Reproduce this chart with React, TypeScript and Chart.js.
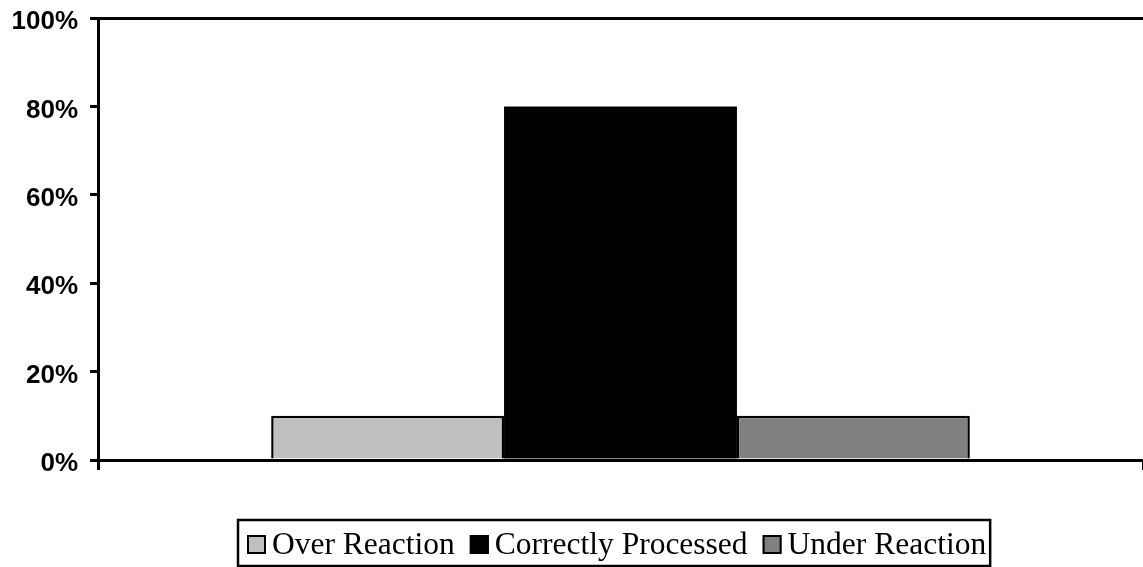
import React, { useEffect, useRef } from "react";
import { Chart, registerables } from "chart.js";

Chart.register(...registerables);

const categories = [""];
const seriesNames = ["Over Reaction", "Correctly Processed", "Under Reaction"];
const overReaction = [10];
const correctlyProcessed = [80];
const underReaction = [10];
const yTicks = [0, 20, 40, 60, 80, 100];
const seriesColors = ["#C0C0C0", "#000000", "#808080"];

const LEGEND_FONT = '31.5px "Liberation Serif"';

const boxedLegend = {
  id: "boxedLegend",
  afterDraw(chart: any) {
    const ctx = chart.ctx;
    const area = chart.chartArea;
    ctx.save();
    ctx.font = LEGEND_FONT;
    const marker = 19;
    const gapText = 6;
    const gapItem = 15;
    const padL = 9;
    const padR = 4;
    const widths = chart.data.datasets.map((ds: any) => ctx.measureText(ds.label).width);
    let total = padL + padR;
    widths.forEach((w: number, i: number) => {
      total += marker + gapText + w + (i < widths.length - 1 ? gapItem : 0);
    });
    const cx = (area.left + area.right) / 2 - 6;
    const left = Math.round(cx - total / 2);
    const top = 520;
    const bottom = chart.height - 1;
    ctx.strokeStyle = "#000";
    ctx.lineWidth = 2.5;
    ctx.strokeRect(left, top, total, bottom - top);
    const midY = 544.5;
    let x = left + padL;
    chart.data.datasets.forEach((ds: any, i: number) => {
      ctx.fillStyle = ds.backgroundColor;
      ctx.fillRect(x, midY - marker / 2, marker, marker);
      ctx.lineWidth = 2;
      ctx.strokeStyle = "#000";
      ctx.strokeRect(x + 1, midY - marker / 2 + 1, marker - 2, marker - 2);
      x += marker + gapText;
      ctx.fillStyle = "#000";
      ctx.textBaseline = "alphabetic";
      ctx.textAlign = "left";
      ctx.fillText(ds.label, x, 554);
      x += widths[i] + gapItem;
    });
    ctx.restore();
  },
};

export default function App() {
  const ref = useRef<HTMLCanvasElement | null>(null);
  useEffect(() => {
    if (!ref.current) return;
    const values = [overReaction, correctlyProcessed, underReaction];
    const chart = new Chart(ref.current, {
      type: "bar",
      data: {
        labels: categories,
        datasets: seriesNames.map((name, i) => ({
          label: name,
          data: values[i],
          backgroundColor: seriesColors[i],
          borderColor: "#000000",
          borderWidth: i === 1 ? 0 : 2.5,
          barPercentage: 1,
          categoryPercentage: 0.6686,
        })),
      },
      options: {
        animation: false,
        responsive: false,
        maintainAspectRatio: false,
        layout: { padding: { top: 18, right: -5, left: 0, bottom: 97 } },
        plugins: {
          tooltip: { enabled: false },
          legend: { display: false },
        },
        scales: {
          x: {
            border: { color: "#000", width: 3 },
            grid: {
              drawOnChartArea: false,
              drawTicks: true,
              tickLength: 10,
              tickColor: "#000",
              lineWidth: 3,
              offset: true,
            },
            ticks: { display: true, font: { size: 1 } },
            afterFit: (s: any) => {
              s.height = 10;
              s.paddingLeft = 0;
              s.paddingRight = 0;
            },
          },
          y: {
            min: 0,
            max: 100,
            afterBuildTicks: (s: any) => {
              s.ticks = yTicks.map((v) => ({ value: v }));
            },
            border: { color: "#000", width: 3 },
            grid: {
              color: (c: any) => (c.tick && c.tick.value === 100 ? "#000" : "rgba(0,0,0,0)"),
              tickColor: "#000",
              tickLength: 8,
              lineWidth: 3,
            },
            ticks: {
              color: "#000",
              padding: 12,
              labelOffset: 4,
              font: { family: "Liberation Sans", size: 26, weight: "bold" },
              callback: (v: any) => v + "%",
            },
            afterFit: (s: any) => {
              s.width = 98;
              s.paddingTop = 0;
              s.paddingBottom = 0;
            },
          },
        },
      },
      plugins: [boxedLegend],
    });
    return () => chart.destroy();
  }, []);
  return (
    <div style={{ position: "fixed", left: 0, top: 0, width: 1143, height: 567, background: "#fff" }}>
      <canvas ref={ref} width={1143} height={567} style={{ width: 1143, height: 567 }} />
    </div>
  );
}
